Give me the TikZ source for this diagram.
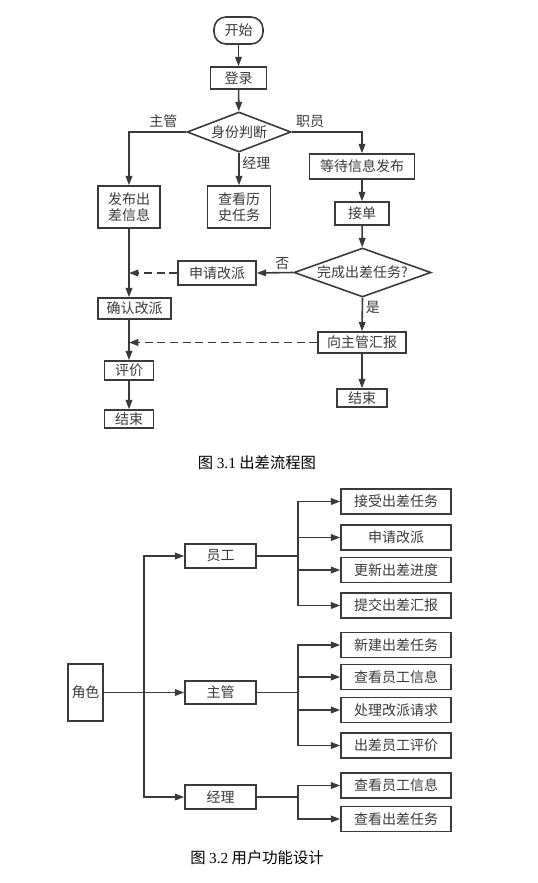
\documentclass[tikz,border=0pt]{standalone}
\usepackage{fontspec}
\setmainfont{Noto Sans CJK SC}
\newfontfamily\tnr{Liberation Serif}
\usetikzlibrary{arrows.meta,shapes.geometric,calc}
\definecolor{lc}{RGB}{58,58,58}
\newcommand\fs{\fontsize{10.5}{12}\selectfont}
\begin{document}
\begin{tikzpicture}[x=0.75pt,y=-0.75pt,color=lc,line width=1.2pt,
  nbox/.style={draw,line width=1.2pt,inner sep=0pt,font=\fs,text=lc},
  bx/.style 2 args={nbox,minimum width=#1*0.75pt,minimum height=#2*0.75pt},
  dia/.style={nbox,diamond},
  startbox/.style={nbox,rounded corners=9pt},
  lab/.style={font=\fs,text=lc,inner sep=1pt},
  captext/.style={font=\fontsize{11.5}{13}\selectfont,text=black,inner sep=0pt},
  arr/.style={-{Triangle[length=7pt,width=5pt]}},
  dsh/.style={dash pattern=on 6pt off 3.5pt}]
\useasboundingbox (0,0) rectangle (537,883);
% ---------- flowchart ----------
\node[startbox,minimum width=49*0.75pt,minimum height=27*0.75pt] (s) at (238.5,30.5) {开始};
\node[bx={56}{22}] (login) at (238.5,78) {登录};
\node[dia,aspect=2.6,minimum width=104*0.75pt,minimum height=40*0.75pt] (d1) at (239,132) {身份判断};
\node[bx={62}{42},align=center] (fb) at (129,207) {发布出\\差信息};
\node[bx={63}{42},align=center] (hist) at (239,207) {查看历\\史任务};
\node[bx={105}{25}] (wait) at (362,166.5) {等待信息发布};
\node[bx={54}{23}] (js) at (362,213.5) {接单};
\node[dia,aspect=2.8,minimum width=137*0.75pt,minimum height=49*0.75pt] (d2) at (362.5,272.5) {完成出差任务?};
\node[bx={78}{24}] (sq) at (217,273) {申请改派};
\node[bx={73}{21}] (qr) at (134.5,308.5) {确认改派};
\node[bx={88}{21}] (hb) at (362,342.5) {向主管汇报};
\node[bx={49}{19}] (pj) at (129,370.5) {评价};
\node[bx={49}{18}] (e1) at (129,419) {结束};
\node[bx={50}{18}] (e2) at (362,398) {结束};
\draw[arr] (s) -- (login);
\draw[arr] (login) -- (d1);
\draw[arr] (d1.west) -| node[lab,pos=0.2,above=2pt]{主管} (fb.north);
\draw[arr] (d1.south) -- node[lab,pos=0.32,right=1pt]{经理} (hist.north);
\draw[arr] (d1.east) -| node[lab,pos=0.13,above=2pt]{职员} (wait.north);
\draw[arr] (wait) -- (js);
\draw[arr] (js) -- (d2);
\draw[arr] (d2.west) -- node[lab,pos=0.3,above=1pt]{否} (sq.east);
\draw[arr] (fb.south) -- (fb.south |- qr.north);
\draw[arr,dsh] (sq.west) -- (sq.west -| fb.south);
\draw[arr] (fb.south |- qr.south) -- (pj.north);
\draw[arr,dsh] (hb.west) -- (hb.west -| fb.south);
\draw[arr] (pj) -- (e1);
\draw[arr] (d2.south) -- node[lab,pos=0.3,right=1pt]{是} (hb.north);
\draw[arr] (hb) -- (e2);
\node[captext] (cap1) at (257,463) {图 {\tnr 3.1} 出差流程图};
% ---------- role tree ----------
\node[bx={35}{57}] (role) at (85.5,692.5) {角色};
\node[bx={71}{24}] (yg) at (220.5,556) {员工};
\node[bx={71}{23}] (zg) at (220.5,692.5) {主管};
\node[bx={71}{24}] (jl) at (220.5,797) {经理};
\node[bx={110}{25}] (a1) at (396,501.5) {接受出差任务};
\node[bx={110}{25}] (a2) at (396,537.5) {申请改派};
\node[bx={110}{25}] (a3) at (396,570) {更新出差进度};
\node[bx={110}{25}] (a4) at (396,605.5) {提交出差汇报};
\node[bx={110}{25}] (b1) at (396,645) {新建出差任务};
\node[bx={110}{25}] (b2) at (396,677) {查看员工信息};
\node[bx={110}{25}] (b3) at (396,710) {处理改派请求};
\node[bx={110}{25}] (b4) at (396,745.5) {出差员工评价};
\node[bx={110}{25}] (c1) at (396,785.5) {查看员工信息};
\node[bx={110}{25}] (c2) at (396,819) {查看出差任务};
\coordinate (tr) at (144,692.5);
\coordinate (br) at (298,0);
\draw[arr] (role.east) -- (zg.west);
\draw[arr] (tr) |- (yg.west);
\draw[arr] (tr) |- (jl.west);
\draw (yg.east) -- (yg.east -| br);
\foreach \q in {a1,a2,a3,a4} {\draw[arr] (yg.east -| br) |- (\q.west);}
\draw (zg.east) -- (zg.east -| br);
\foreach \q in {b1,b2,b3,b4} {\draw[arr] (zg.east -| br) |- (\q.west);}
\draw (jl.east) -- (jl.east -| br);
\foreach \q in {c1,c2} {\draw[arr] (jl.east -| br) |- (\q.west);}
\node[captext] (cap2) at (257,858) {图 {\tnr 3.2} 用户功能设计};
\end{tikzpicture}
\end{document}
